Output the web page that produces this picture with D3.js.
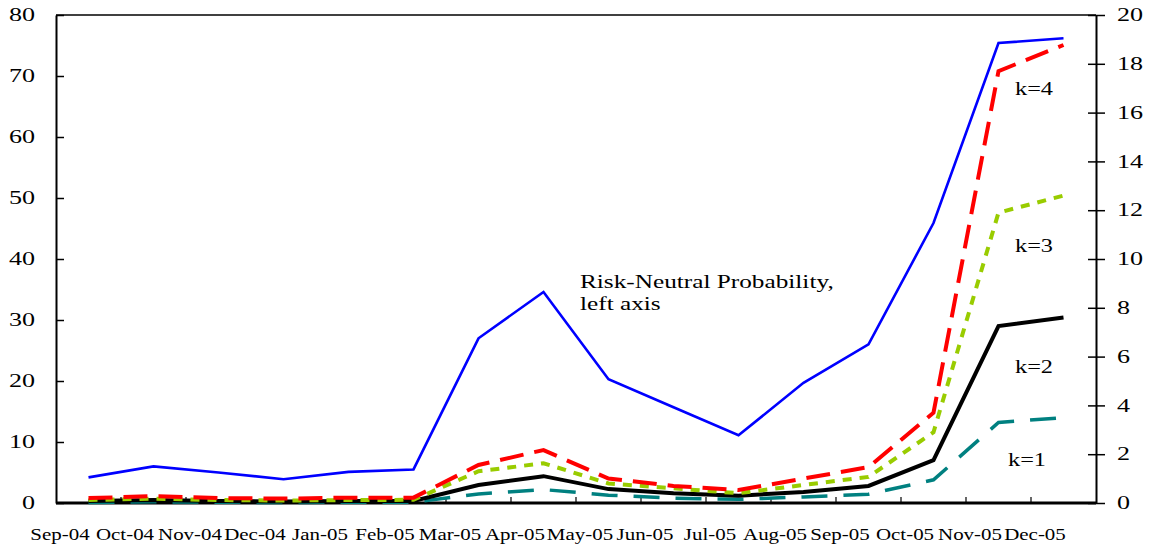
<!DOCTYPE html>
<html>
<head>
<meta charset="utf-8">
<script src="https://cdn.jsdelivr.net/npm/d3@7"></script>
<style>
  body { margin: 0; background: #fff; }
  svg { display: block; }
  text { font-family: "Liberation Serif", "Times New Roman", serif; fill: #000; }
</style>
</head>
<body>
<div id="chart"></div>
<script>
// months on the x axis
const months = ['Sep-04', 'Oct-04', 'Nov-04', 'Dec-04', 'Jan-05', 'Feb-05', 'Mar-05', 'Apr-05',
  'May-05', 'Jun-05', 'Jul-05', 'Aug-05', 'Sep-05', 'Oct-05', 'Nov-05', 'Dec-05'];

// left axis: risk-neutral probability (%)
const riskNeutral = [4.2, 6.0, 5.0, 3.9, 5.1, 5.5, 27.0, 34.6, 20.3, 15.7, 11.1, 19.7, 26.0, 45.9, 75.4, 76.2];

// right axis: k = 1..4
const k1 = [0.02, 0.05, 0.03, 0.02, 0.03, 0.03, 0.37, 0.55, 0.32, 0.2, 0.15, 0.25, 0.36, 0.95, 3.3, 3.5];
const k2 = [0.08, 0.12, 0.08, 0.06, 0.08, 0.08, 0.74, 1.1, 0.57, 0.4, 0.3, 0.45, 0.7, 1.76, 7.25, 7.6];
const k3 = [0.12, 0.18, 0.12, 0.1, 0.12, 0.13, 1.3, 1.63, 0.8, 0.6, 0.4, 0.74, 1.07, 2.9, 11.9, 12.6];
const k4 = [0.2, 0.28, 0.2, 0.18, 0.22, 0.22, 1.56, 2.17, 1.0, 0.7, 0.53, 1.0, 1.47, 3.7, 17.7, 18.77];

const leftTicks = [0, 10, 20, 30, 40, 50, 60, 70, 80];
const rightTicks = [0, 2, 4, 6, 8, 10, 12, 14, 16, 18, 20];

const W = 1151, H = 546;
const m = { top: 15, right: 55, bottom: 43, left: 56 };
const STRETCH = 1.45; // the reference's text is drawn wide

const svg = d3.select('#chart').append('svg').attr('width', W).attr('height', H);

const x = d3.scaleBand().domain(months).range([m.left, W - m.right]).padding(0);
const yL = d3.scaleLinear().domain([0, 80]).range([H - m.bottom, m.top]);
const yR = d3.scaleLinear().domain([0, 20]).range([H - m.bottom, m.top]);
const cx = d => x(d) + x.bandwidth() / 2;

// widen a text element horizontally about its own x position
function stretch(sel, s) {
  sel.each(function() {
    const t = d3.select(this);
    const tx = +t.attr('x') || 0;
    t.attr('x', 0).attr('transform', `translate(${tx},0) scale(${s},1)`);
  });
}

// frame top line
svg.append('line')
  .attr('x1', m.left).attr('x2', W - m.right)
  .attr('y1', m.top).attr('y2', m.top)
  .attr('stroke', '#000').attr('stroke-width', 1.5);

// left axis, ticks pointing inward
const gL = svg.append('g')
  .attr('transform', `translate(${m.left},0)`)
  .call(d3.axisLeft(yL).tickValues(leftTicks).tickSize(-8).tickPadding(21).tickSizeOuter(0));
gL.select('.domain').attr('stroke-width', 2);
gL.selectAll('.tick line').attr('stroke-width', 1.5);
gL.selectAll('.tick text').attr('font-size', 18).attr('font-family', '"Liberation Serif", serif')
  .attr('fill', '#000').call(stretch, STRETCH);

// right axis, ticks crossing the line
const gR = svg.append('g')
  .attr('transform', `translate(${W - m.right},0)`)
  .call(d3.axisRight(yR).tickValues(rightTicks).tickSize(9).tickPadding(12).tickSizeOuter(0));
gR.select('.domain').attr('stroke-width', 2);
gR.selectAll('.tick line').attr('x1', -8).attr('stroke-width', 1.5);
gR.selectAll('.tick text').attr('font-size', 18).attr('font-family', '"Liberation Serif", serif')
  .attr('fill', '#000').call(stretch, STRETCH);

// bottom axis: ticks on band edges, labels under the edges
const gB = svg.append('g');
gB.append('line')
  .attr('x1', m.left).attr('x2', W - m.right)
  .attr('y1', H - m.bottom).attr('y2', H - m.bottom)
  .attr('stroke', '#000').attr('stroke-width', 2.8);
gB.selectAll('.xtick').data(months.slice(1)).join('line')
  .attr('class', 'xtick')
  .attr('x1', d => x(d)).attr('x2', d => x(d))
  .attr('y1', H - m.bottom).attr('y2', H - m.bottom - 6)
  .attr('stroke', '#000').attr('stroke-width', 1.2);
gB.selectAll('.xlab').data(months).join('text')
  .attr('class', 'xlab')
  .attr('x', d => x(d) + 4)
  .attr('y', 540)
  .attr('text-anchor', 'middle')
  .attr('font-size', 16.5)
  .text(d => d)
  .call(stretch, 1.27);

// series
const series = [
  { name: 'k=1', values: k1, y: yR, color: '#008080', width: 3.5, dash: '26,16' },
  { name: 'k=2', values: k2, y: yR, color: '#000000', width: 4, dash: null },
  { name: 'k=3', values: k3, y: yR, color: '#99cc00', width: 4, dash: '9,8' },
  { name: 'k=4', values: k4, y: yR, color: '#ff0000', width: 4, dash: '24,11' },
  { name: 'rn', values: riskNeutral, y: yL, color: '#0000ff', width: 2.6, dash: null }
];

svg.append('g').selectAll('path').data(series).join('path')
  .attr('fill', 'none')
  .attr('stroke', d => d.color)
  .attr('stroke-width', d => d.width)
  .attr('stroke-dasharray', d => d.dash)
  .attr('stroke-linejoin', 'miter')
  .attr('d', d => d3.line().x((v, i) => cx(months[i])).y(v => d.y(v))(d.values));

// labels
const labels = [
  { text: 'k=4', x: 1015, y: 95 },
  { text: 'k=3', x: 1015, y: 252 },
  { text: 'k=2', x: 1015, y: 373 },
  { text: 'k=1', x: 1008, y: 466 }
];
svg.append('g').selectAll('text').data(labels).join('text')
  .attr('x', d => d.x).attr('y', d => d.y)
  .attr('font-size', 18)
  .text(d => d.text)
  .call(stretch, 1.35);

const note = svg.append('g');
note.append('text').attr('x', 580).attr('y', 288).attr('font-size', 19)
  .text('Risk-Neutral Probability,').call(stretch, 1.33);
note.append('text').attr('x', 580).attr('y', 310).attr('font-size', 19)
  .text('left axis').call(stretch, 1.33);
</script>
</body>
</html>
